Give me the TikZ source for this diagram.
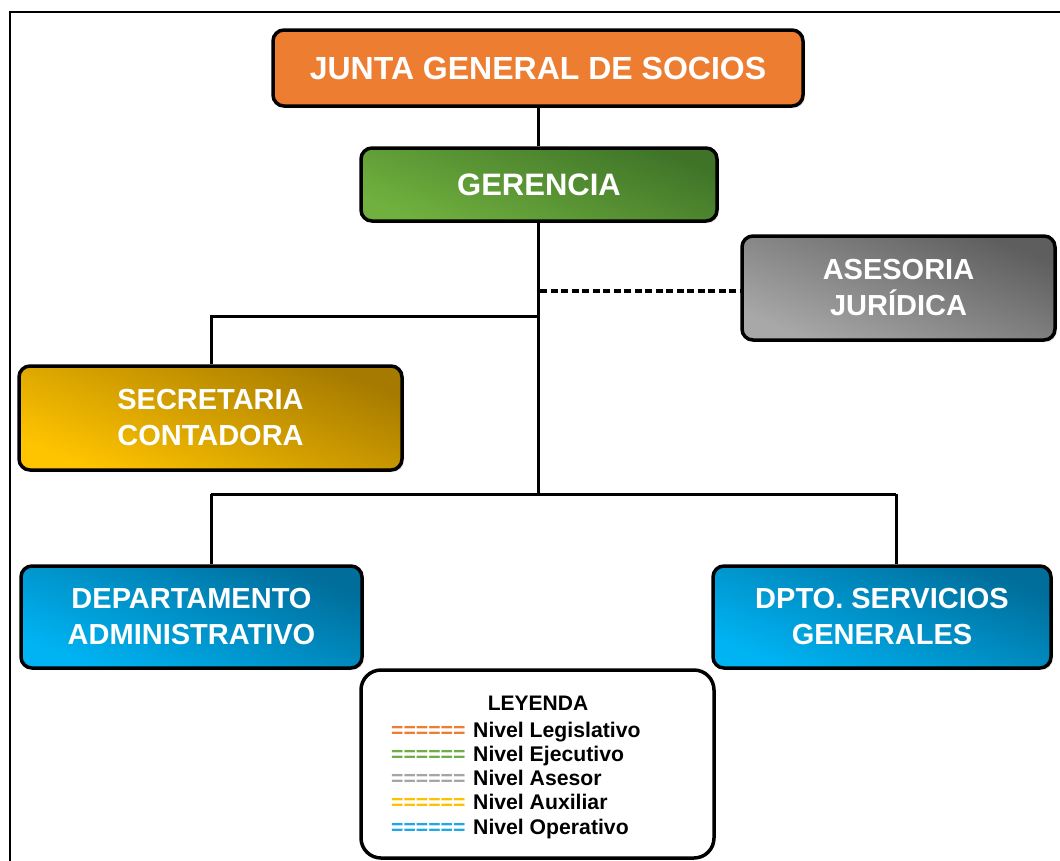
\documentclass[tikz,border=0pt]{standalone}
\usepackage{fontspec}
\setmainfont{Liberation Sans}
\usetikzlibrary{shadows}
\definecolor{cOrange}{HTML}{ED7D31}
\definecolor{cGreenL}{HTML}{70B03E}
\definecolor{cGreenD}{HTML}{3F7428}
\definecolor{cGrayL}{HTML}{A8A8A8}
\definecolor{cGrayD}{HTML}{5E5E5E}
\definecolor{cGoldL}{HTML}{FFC400}
\definecolor{cGoldD}{HTML}{A67A00}
\definecolor{cBlueL}{HTML}{00B4F4}
\definecolor{cBlueD}{HTML}{006D9A}
\definecolor{lOrange}{HTML}{ED7D31}
\definecolor{lGreen}{HTML}{70AD47}
\definecolor{lGray}{HTML}{A5A5A5}
\definecolor{lGold}{HTML}{FFC000}
\definecolor{lBlue}{HTML}{1FA7E8}
\tikzset{
  orgbox/.style={draw=black, line width=3.5pt, rounded corners=11pt,
    text=white, font=\bfseries, align=center, inner sep=0pt,
    drop shadow={opacity=0.25, shadow xshift=2pt, shadow yshift=-2pt}},
  grad/.style n args={2}{top color=#2, bottom color=#1, shading angle=-22},
  conn/.style={line width=3pt, black},
  dashconn/.style={line width=3.5pt, black, dash pattern=on 7pt off 3.5pt},
  legtxt/.style={font=\fontsize{21.2}{24}\selectfont\bfseries, anchor=base west, inner sep=0pt}
}
\begin{document}
\begin{tikzpicture}[x=1pt, y=-1pt]
\useasboundingbox (0,0) rectangle (1060,860);
% outer frame
\draw[line width=2.5pt] (10,870) -- (10,12) -- (1070,12);
% boxes
\node[orgbox, fill=cOrange, minimum width=530pt, minimum height=76pt,
  font=\fontsize{32}{36}\selectfont\bfseries] (junta) at (538,68) {JUNTA GENERAL DE SOCIOS};
\node[orgbox, grad={cGreenL}{cGreenD}, minimum width=356pt, minimum height=73pt,
  font=\fontsize{31}{36}\selectfont\bfseries] (ger) at (539,184.5) {GERENCIA};
\node[orgbox, grad={cGrayL}{cGrayD}, minimum width=313pt, minimum height=104pt,
  font=\fontsize{29}{36}\selectfont\bfseries] (ases) at (898.5,288) {ASESORIA\\JURÍDICA};
\node[orgbox, grad={cGoldL}{cGoldD}, minimum width=383pt, minimum height=104pt,
  font=\fontsize{29}{36}\selectfont\bfseries] (sec) at (210.5,418) {SECRETARIA\\CONTADORA};
\node[orgbox, grad={cBlueL}{cBlueD}, minimum width=341pt, minimum height=102pt,
  font=\fontsize{29}{36}\selectfont\bfseries] (dep) at (191.5,617) {DEPARTAMENTO\\ADMINISTRATIVO};
\node[orgbox, grad={cBlueL}{cBlueD}, minimum width=338pt, minimum height=102pt,
  font=\fontsize{29}{36}\selectfont\bfseries] (dsg) at (882,617) {DPTO. SERVICIOS\\GENERALES};
% connector points
\coordinate (jb) at (538,106);
\coordinate (t1) at (538,316);
\coordinate (t2) at (538,494);
\coordinate (dstart) at (540,291);
\coordinate (hl) at (211,494);
\coordinate (hr) at (896,494);
\coordinate (sx) at (211,316);
% connectors
\draw[conn] (junta.south -| jb) -- (ger.north -| jb);
\draw[conn] (ger.south -| jb) -- (t2);
\draw[conn] (t1) -- (sx) -- (sec.north -| sx);
\draw[conn] (hl) -- (hr);
\draw[conn] (hl) -- (dep.north -| hl);
\draw[conn] (hr) -- (dsg.north -| hr);
\draw[dashconn] (dstart) -- (ases.west |- dstart);
% legend
\node[draw=black, line width=3.5pt, rounded corners=20pt, fill=white,
  minimum width=353pt, minimum height=188pt, inner sep=0pt] (leg) at (537.5,764) {};
\node[font=\fontsize{21}{24}\selectfont\bfseries, anchor=base, inner sep=0pt] (legt) at (538,710) {LEYENDA};
\node[legtxt, text=lOrange] (e1) at (391,737) {======};
\node[legtxt] (n1) at (473,737) {Nivel Legislativo};
\node[legtxt, text=lGreen] (e2) at (391,761) {======};
\node[legtxt] (n2) at (473,761) {Nivel Ejecutivo};
\node[legtxt, text=lGray] (e3) at (391,785) {======};
\node[legtxt] (n3) at (473,785) {Nivel Asesor};
\node[legtxt, text=lGold] (e4) at (391,809) {======};
\node[legtxt] (n4) at (473,809) {Nivel Auxiliar};
\node[legtxt, text=lBlue] (e5) at (391,834) {======};
\node[legtxt] (n5) at (473,834) {Nivel Operativo};
\end{tikzpicture}
\end{document}
